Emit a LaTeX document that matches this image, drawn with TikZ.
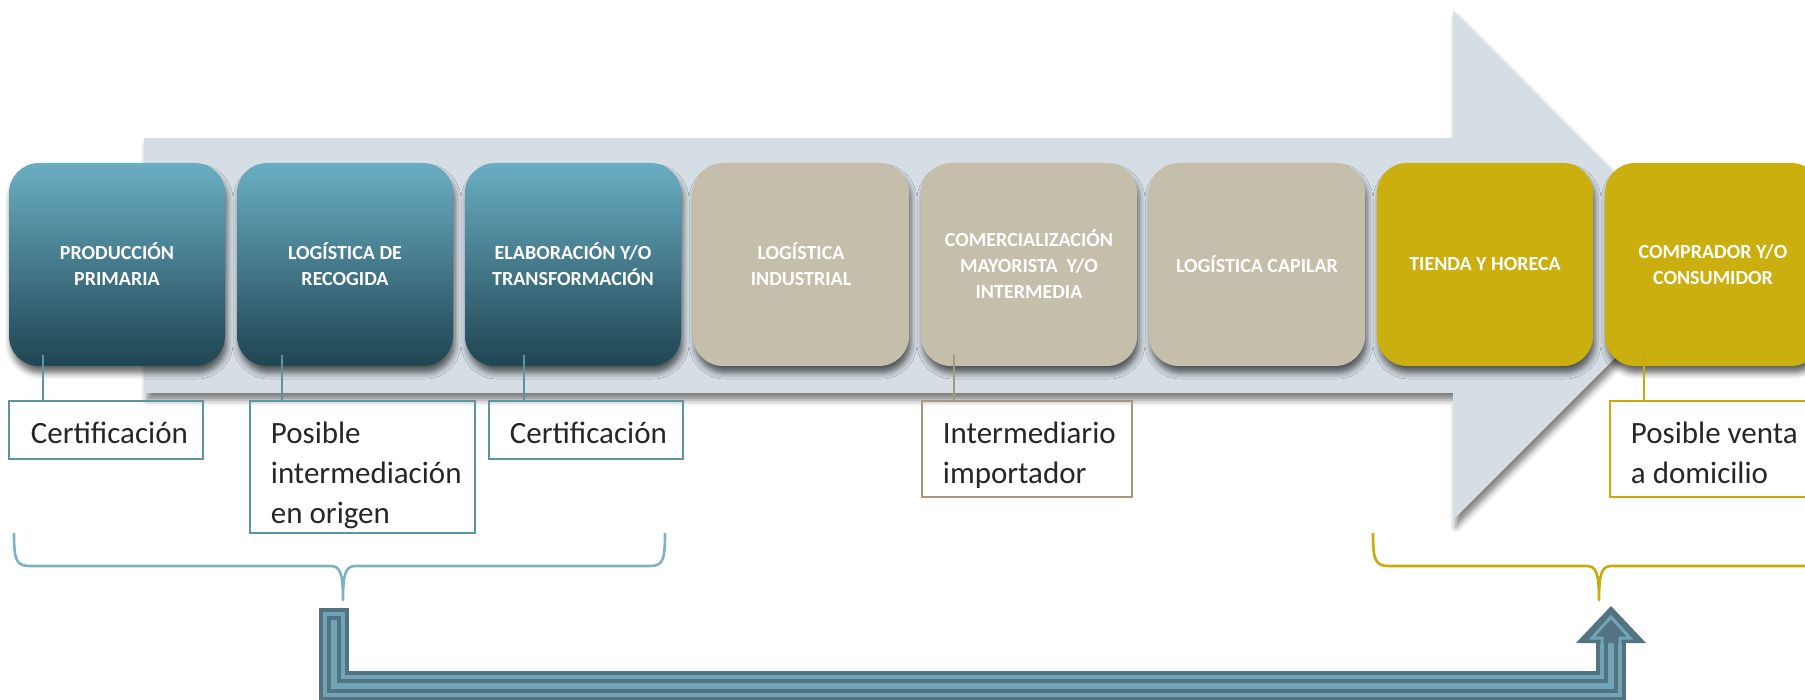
\documentclass[tikz,border=0pt]{standalone}
\usepackage{fontspec}
\setmainfont{Carlito}
\usepackage{tikz}
\usetikzlibrary{positioning,shadows.blur}
\usepackage{xcolor}
\definecolor{arrowgrey}{HTML}{D5DEE4}
\definecolor{tealtop}{HTML}{6AAEC4}
\definecolor{tealbot}{HTML}{1F4552}
\definecolor{stagetan}{HTML}{C5BEAB}
\definecolor{mustard}{HTML}{CBAF0E}
\definecolor{tealline}{HTML}{5D93A4}
\definecolor{tanline}{HTML}{A6987A}
\definecolor{mustline}{HTML}{C9AA0C}
\definecolor{bracetl}{HTML}{7DB2C2}
\definecolor{banddark}{HTML}{52737F}
\definecolor{bandlight}{HTML}{6FA5B6}

\begin{document}
\begin{tikzpicture}[x=1pt,y=-1pt,
  stage/.style={rounded corners=30,minimum width=216,minimum height=203,inner sep=0,align=center,text=white,
    font=\fontsize{20}{26}\selectfont\bfseries,
    blur shadow={shadow xshift=2pt,shadow yshift=-7pt,shadow blur radius=6pt,shadow opacity=60}},
  notebox/.style={draw=#1,line width=2.6,inner sep=0},
  notetext/.style={anchor=north west,inner sep=0,align=left,text=black!85,font=\fontsize{31}{40}\selectfont},
  link/.style={draw=#1,line width=2.6},
  brace/.style={draw=#1,line width=2.6,line join=round}]
\useasboundingbox (0,0) rectangle (1805,700);
% big grey arrow
\path[fill=arrowgrey,blur shadow={shadow xshift=3pt,shadow yshift=-7pt,shadow blur radius=6pt,shadow opacity=50}]
  (144,138) -- (1453,138) -- (1453,11) -- (1707,266) -- (1453,520) -- (1453,393) -- (144,393) -- cycle;
% stages
\node[stage,top color=tealtop,bottom color=tealbot] (s1) at (117,264.5) {PRODUCCIÓN\\PRIMARIA};
\node[stage,top color=tealtop,bottom color=tealbot] (s2) at (345,264.5) {LOGÍSTICA DE\\RECOGIDA};
\node[stage,top color=tealtop,bottom color=tealbot] (s3) at (573,264.5) {ELABORACIÓN Y/O\\TRANSFORMACIÓN};
\node[stage,fill=stagetan] (s4) at (801,264.5) {LOGÍSTICA\\INDUSTRIAL};
\node[stage,fill=stagetan] (s5) at (1029,264.5) {COMERCIALIZACIÓN\\MAYORISTA~ Y/O\\INTERMEDIA};
\node[stage,fill=stagetan] (s6) at (1257,264.5) {LOGÍSTICA CAPILAR};
\node[stage,fill=mustard] (s7) at (1485,264.5) {TIENDA Y HORECA};
\node[stage,fill=mustard] (s8) at (1713,264.5) {COMPRADOR Y/O\\CONSUMIDOR};
% notes under the stages
\node[notebox=tealline,minimum width=194,minimum height=58] (cert1) at (106,430) {};
\node[notetext] (cert1txt) at ([shift={(23,22)}]cert1.north west) {Certificación};
\node[notebox=tealline,minimum width=225,minimum height=132] (origen) at (362.5,467) {};
\node[notetext] (origentxt) at ([shift={(22,22)}]origen.north west) {Posible\\intermediación\\en origen};
\node[notebox=tealline,minimum width=194,minimum height=58] (cert2) at (586,430) {};
\node[notetext] (cert2txt) at ([shift={(22,22)}]cert2.north west) {Certificación};
\node[notebox=tanline,minimum width=210,minimum height=96] (import) at (1027,449) {};
\node[notetext] (importtxt) at ([shift={(22,22)}]import.north west) {Intermediario\\importador};
\node[notebox=mustline,minimum width=230,minimum height=96] (venta) at (1725,449) {};
\node[notetext] (ventatxt) at ([shift={(22,22)}]venta.north west) {Posible venta\\a domicilio};
\draw[link=tealline] ([shift={(-74,-11)}]s1.south) -- ([xshift=-63pt]cert1.north);
\draw[link=tealline] ([shift={(-63,-11)}]s2.south) -- ([xshift=-80.5pt]origen.north);
\draw[link=tealline] ([shift={(-49,-11)}]s3.south) -- ([xshift=-62pt]cert2.north);
\draw[link=tanline] ([shift={(-75,-11)}]s5.south) -- ([xshift=-73pt]import.north);
\draw[link=mustline] ([shift={(-69,-11)}]s8.south) -- ([xshift=-81pt]venta.north);
% braces
\draw[brace=bracetl] (14,533) .. controls (14,560) and (16,566) .. (30,566) -- (330,566)
  .. controls (340,566) and (343,572) .. (343,600) .. controls (343,572) and (346,566) .. (356,566)
  -- (650,566) .. controls (663,566) and (665,560) .. (665,533);
\draw[brace=mustline] (1373,533) .. controls (1373,560) and (1375,566) .. (1389,566) -- (1586,566)
  .. controls (1596,566) and (1599,572) .. (1599,600) .. controls (1599,572) and (1602,566) .. (1612,566)
  -- (1810,566) .. controls (1823,566) and (1825,560) .. (1825,533);
% striped return arrow
\coordinate (from) at (334,608);
\coordinate (to) at (1611,606);
\foreach \w/\c/\s in {30/banddark/0,22/bandlight/4,14/banddark/8,6/bandlight/12}
  \draw[line width=\w,\c] ([yshift=-\s pt]from) -- (334,686) -- (1611,686) -- (1611,643);
\fill[banddark] (1576,643) -- (to) -- (1646,643) -- cycle;
\draw[bandlight,line width=3] (1602,645) -- (1602,638) -- (1592,638) -- (1611,617) -- (1630,638) -- (1620,638) -- (1620,645);
\end{tikzpicture}
\end{document}
